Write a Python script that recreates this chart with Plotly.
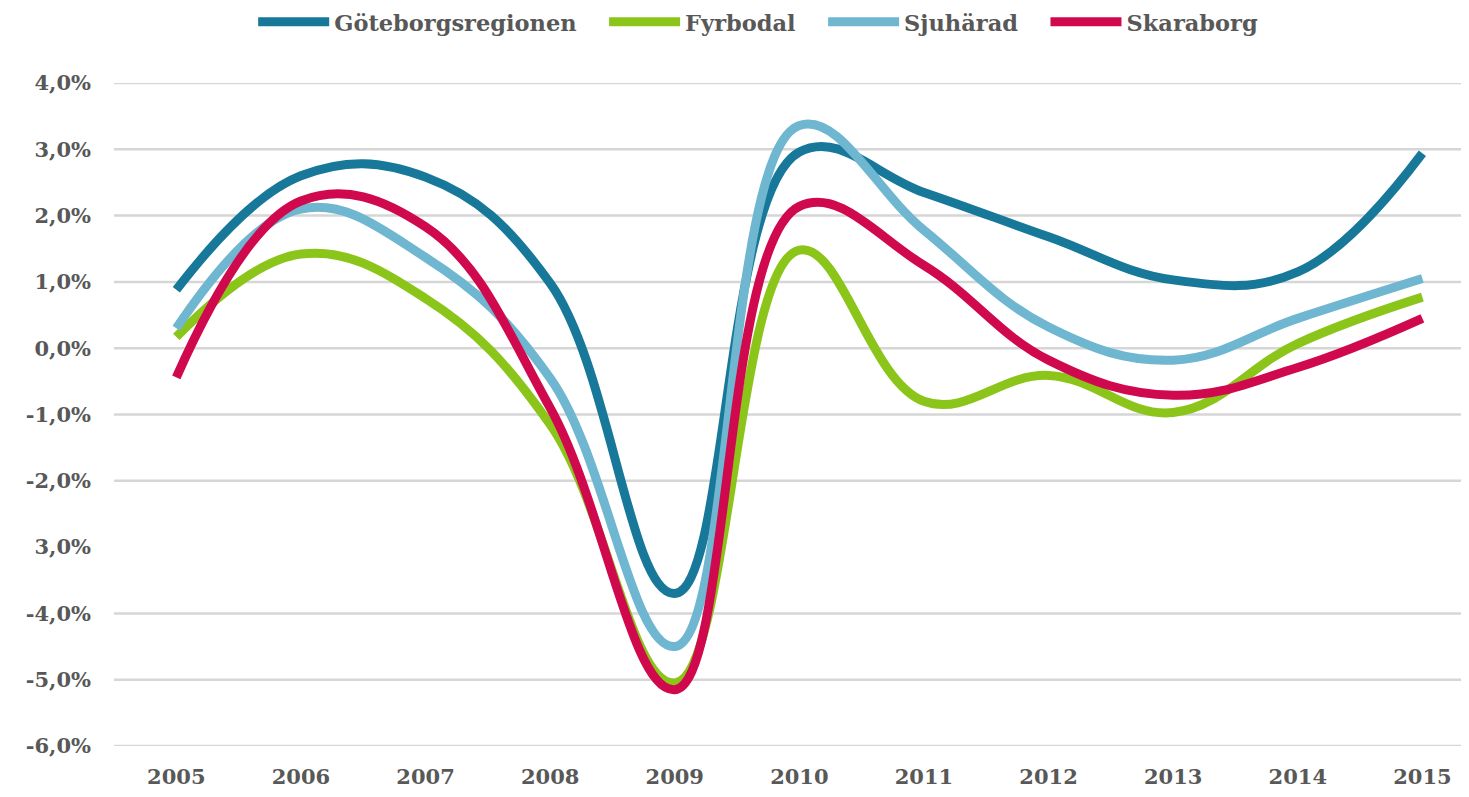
import plotly.graph_objects as go

# yearly change, percent
years = ["2005", "2006", "2007", "2008", "2009", "2010", "2011", "2012", "2013", "2014", "2015"]
goteborg = [0.88, 2.60, 2.58, 0.98, -3.70, 2.96, 2.35, 1.68, 1.03, 1.15, 2.94]
fyrbodal = [0.17, 1.42, 0.75, -1.15, -5.05, 1.48, -0.80, -0.41, -0.97, 0.07, 0.77]
sjuharad = [0.30, 2.10, 1.37, -0.45, -4.50, 3.36, 1.78, 0.32, -0.18, 0.45, 1.05]
skaraborg = [-0.44, 2.22, 1.83, -0.90, -5.15, 2.14, 1.25, -0.18, -0.71, -0.29, 0.45]

y_ticks = [4, 3, 2, 1, 0, -1, -2, -3, -4, -5, -6]
y_labels = ["4,0%", "3,0%", "2,0%", "1,0%", "0,0%", "-1,0%", "-2,0%", "3,0%", "-4,0%", "-5,0%", "-6,0%"]
grid_levels = [4, 3, 2, 1, 0, -1, -2, -4, -5, -6]  # no line at -3 in the original

series = [
    ("Göteborgsregionen", goteborg, "#17789a"),
    ("Fyrbodal", fyrbodal, "#8cc51a"),
    ("Sjuhärad", sjuharad, "#6fb6d0"),
    ("Skaraborg", skaraborg, "#d0094f"),
]

font_family = "DejaVu Serif"
text_grey = "#585858"
tick_font = dict(size=21, family=font_family, color=text_grey, weight="bold")

fig = go.Figure()
x_idx = list(range(len(years)))
for name, vals, color in series:
    fig.add_trace(go.Scatter(
        x=x_idx, y=vals, name=name + "\u2003", mode="lines",
        line=dict(color=color, width=9, shape="spline", smoothing=1.15),
    ))

for lvl in grid_levels:
    fig.add_shape(type="line", xref="paper", yref="y", x0=0, x1=1, y0=lvl, y1=lvl,
                  line=dict(color="#d6d6d6", width=2.5), layer="below")

fig.update_layout(
    width=1461, height=789,
    margin=dict(l=106, r=3, t=75, b=51),
    paper_bgcolor="white", plot_bgcolor="white",
    font=dict(family=font_family, color=text_grey),
    showlegend=True,
    legend=dict(
        orientation="h", xref="container", yref="container",
        x=0.521, xanchor="center", y=0.982, yanchor="middle",
        itemwidth=71, font=dict(size=22.5, family=font_family, color=text_grey, weight="bold"),
    ),
    xaxis=dict(
        range=[-0.5, 10.35], tickmode="array", tickvals=x_idx, ticktext=years,
        showgrid=False, zeroline=False, showline=False,
        ticks="", ticklabelstandoff=16, tickfont=tick_font,
    ),
    yaxis=dict(
        range=[-6, 4], tickmode="array", tickvals=y_ticks, ticktext=y_labels,
        showgrid=False, zeroline=False, showline=False,
        ticks="", ticklabelstandoff=22, tickfont=tick_font,
    ),
)

fig.write_html("out.html")
